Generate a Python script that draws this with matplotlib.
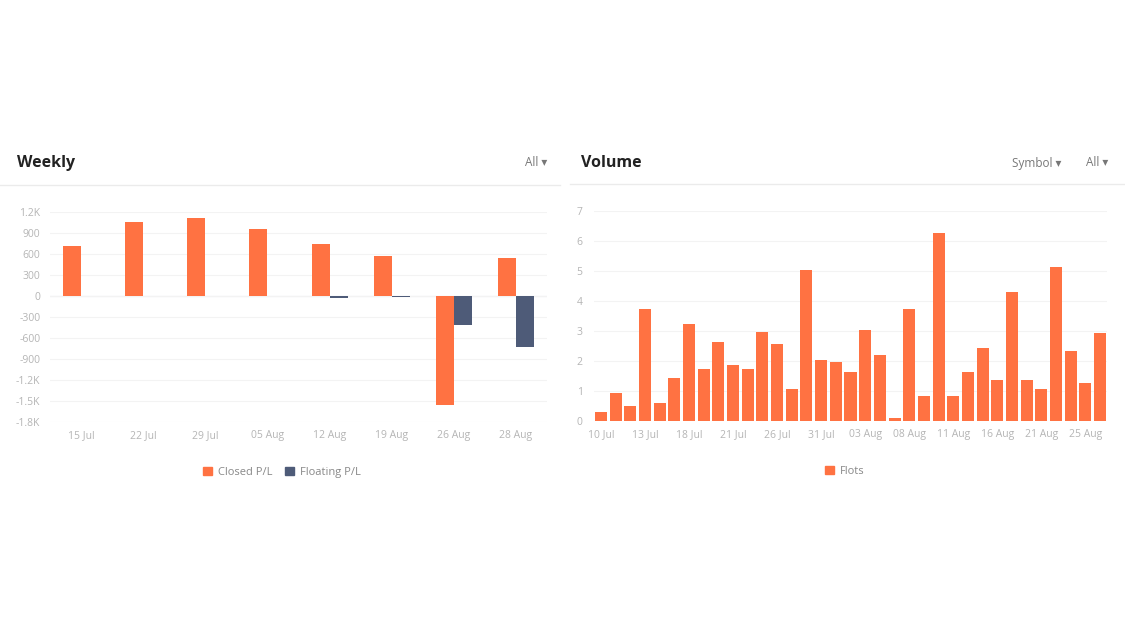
import matplotlib.pyplot as plt
import numpy as np
from matplotlib.lines import Line2D
from matplotlib.patches import Patch

plt.rcParams['font.family'] = ['Open Sans', 'DejaVu Sans']

# Weekly P/L
weeks = ['15 Jul', '22 Jul', '29 Jul', '05 Aug', '12 Aug', '19 Aug', '26 Aug', '28 Aug']
closed_pl = [720, 1060, 1110, 960, 750, 565, -1550, 550]
floating_pl = [0, 0, 0, 0, -25, -8, -415, -735]
pl_ticks = [-1800, -1500, -1200, -900, -600, -300, 0, 300, 600, 900, 1200]
pl_labels = ['-1.8K', '-1.5K', '-1.2K', '-900', '-600', '-300', '0', '300', '600', '900', '1.2K']

# Daily volume
days = ['10 Jul', '11 Jul', '12 Jul', '13 Jul', '14 Jul', '17 Jul', '18 Jul', '19 Jul', '20 Jul',
        '21 Jul', '24 Jul', '25 Jul', '26 Jul', '27 Jul', '28 Jul', '31 Jul', '01 Aug', '02 Aug',
        '03 Aug', '04 Aug', '07 Aug', '08 Aug', '09 Aug', '10 Aug', '11 Aug', '14 Aug', '15 Aug',
        '16 Aug', '17 Aug', '18 Aug', '21 Aug', '22 Aug', '24 Aug', '25 Aug', '28 Aug']
flots = [0.3, 0.92, 0.5, 3.75, 0.6, 1.42, 3.25, 1.75, 2.62, 1.87, 1.72, 2.98, 2.57, 1.07,
         5.03, 2.02, 1.97, 1.63, 3.04, 2.2, 0.1, 3.75, 0.85, 6.28, 0.85, 1.63, 2.44, 1.38,
         4.3, 1.38, 1.08, 5.13, 2.33, 1.28, 2.93]

orange = '#FF7242'
navy = '#4E5B78'
tick_col = '#B5B5B5'
grid_col = '#F3F3F3'

W, H = 1125, 633
fig = plt.figure(figsize=(W / 100, H / 100), dpi=100)


def fx(px):
    return px / W


def fy(py):
    return 1 - py / H


# headers
fig.text(fx(17), fy(163), 'Weekly', fontsize=11.5, fontweight='bold', color='#222222', va='center')
fig.text(fx(547), fy(163), 'All \u25BE', fontsize=8.5, color='#777777', va='center', ha='right')
fig.text(fx(581), fy(163), 'Volume', fontsize=11.5, fontweight='bold', color='#222222', va='center')
fig.text(fx(1061), fy(163), 'Symbol \u25BE', fontsize=8.5, color='#777777', va='center', ha='right')
fig.text(fx(1108), fy(163), 'All \u25BE', fontsize=8.5, color='#777777', va='center', ha='right')
fig.add_artist(Line2D([0, fx(560)], [fy(185), fy(185)], color='#EBEBEB', lw=1))
fig.add_artist(Line2D([fx(570), 1], [fy(184), fy(184)], color='#EBEBEB', lw=1))


def style(ax):
    for s in ax.spines.values():
        s.set_visible(False)
    ax.tick_params(length=0, colors=tick_col, labelsize=7.5)
    ax.yaxis.grid(True, color=grid_col, lw=0.8)
    ax.set_axisbelow(True)


# weekly chart
ax1 = fig.add_axes([fx(50), fy(422), fx(497), 210 / H])
style(ax1)
x = np.arange(len(weeks))
bw = 0.29
ax1.bar(x - bw / 2, closed_pl, width=bw, color=orange, label='Closed P/L')
ax1.bar(x + bw / 2, floating_pl, width=bw, color=navy, label='Floating P/L')
ax1.axhline(0, color='#D5D8DE', lw=0.8, zorder=0.5)
ax1.set_xlim(-0.5, len(weeks) - 0.5)
ax1.set_ylim(-1800, 1200)
ax1.set_yticks(pl_ticks)
ax1.set_yticklabels(pl_labels)
ax1.set_xticks(x)
ax1.set_xticklabels(weeks)
ax1.tick_params(axis='x', pad=6)
ax1.tick_params(axis='y', pad=7)
ax1.legend(handles=[Patch(color=orange, label='Closed P/L'), Patch(color=navy, label='Floating P/L')],
           loc='center', bbox_to_anchor=((282 - 50) / 497, -0.24), ncol=2,
           frameon=False, fontsize=8, labelcolor='#888888', handlelength=0.8, handleheight=0.8,
           handletextpad=0.5, columnspacing=1.2)

# volume chart
ax2 = fig.add_axes([fx(593.7), fy(421), fx(513.6), 210 / H])
style(ax2)
xd = np.arange(len(days))
ax2.bar(xd, flots, width=0.82, color=orange, label='Flots')
ax2.set_xlim(-0.5, len(days) - 0.5)
ax2.set_ylim(0, 7)
ax2.set_yticks(range(8))
ax2.set_xticks(xd[::3])
ax2.set_xticklabels(days[::3])
ax2.tick_params(axis='x', pad=6)
ax2.tick_params(axis='y', pad=8)
ax2.legend(handles=[Patch(color=orange, label='Flots')],
           loc='center', bbox_to_anchor=((845 - 593.7) / 513.6, -0.24), ncol=1,
           frameon=False, fontsize=8, labelcolor='#888888', handlelength=0.8, handleheight=0.8,
           handletextpad=0.5)

fig.savefig('out.png', dpi=100, facecolor='white')
